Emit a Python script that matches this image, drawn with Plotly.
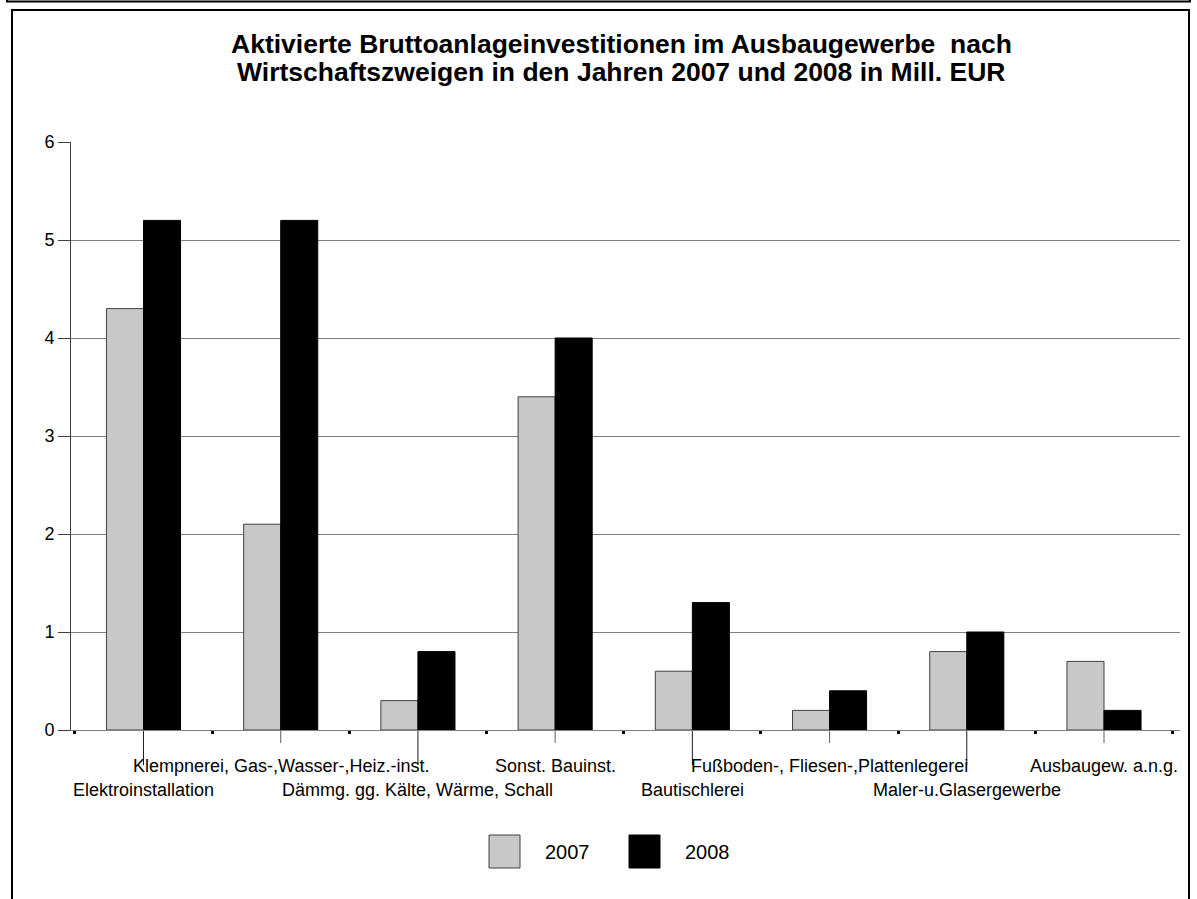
import plotly.graph_objects as go

categories = [
    "Elektroinstallation",
    "Klempnerei, Gas-,Wasser-,Heiz.-inst.",
    "Dämmg. gg. Kälte, Wärme, Schall",
    "Sonst. Bauinst.",
    "Bautischlerei",
    "Fußboden-, Fliesen-,Plattenlegerei",
    "Maler-u.Glasergewerbe",
    "Ausbaugew. a.n.g.",
]
values_2007 = [4.3, 2.1, 0.3, 3.4, 0.6, 0.2, 0.8, 0.7]
values_2008 = [5.2, 5.2, 0.8, 4.0, 1.3, 0.4, 1.0, 0.2]
series_names = ["2007", "2008"]
y_ticks = [0, 1, 2, 3, 4, 5, 6]
title_lines = [
    "Aktivierte Bruttoanlageinvestitionen im Ausbaugewerbe \u00a0nach",
    "Wirtschaftszweigen in den Jahren 2007 und 2008 in Mill. EUR",
]

W, H = 1197, 899
L, R, T, B = 71, 17, 142, 169
PW = W - L - R
PH = H - T - B


def px(xp):
    return (xp - L) / PW


def py(yp):
    return (H - B - yp) / PH


FONT = "Liberation Sans, Arial, sans-serif"

fig = go.Figure()
fig.add_trace(go.Bar(
    x=categories, y=values_2007, name=series_names[0],
    marker=dict(color="#C8C8C8", line=dict(color="#404040", width=1)),
    showlegend=False,
))
fig.add_trace(go.Bar(
    x=categories, y=values_2008, name=series_names[1],
    marker=dict(color="#000000", line=dict(color="#000000", width=1)),
    showlegend=False,
))

shapes = []
annotations = []

# category labels, staggered on two rows, plus leader lines
for i, cat in enumerate(categories):
    long_row = (i % 2 == 0)
    annotations.append(dict(
        x=i, xref="x", y=py(790 if long_row else 766), yref="paper",
        text=cat, showarrow=False, xanchor="center", yanchor="middle",
        font=dict(family=FONT, size=18, color="black"),
    ))
    shapes.append(dict(
        type="line", xref="x", yref="paper", x0=i, x1=i,
        y0=py(731), y1=py(765 if long_row else 743),
        line=dict(color="#202020" if long_row else "#606060", width=1),
    ))

# title (two lines, tight spacing)
for line, ypix in zip(title_lines, [44, 72]):
    annotations.append(dict(
        x=(621 - L) / PW, xref="paper", y=py(ypix), yref="paper",
        text="<b>" + line + "</b>",
        showarrow=False, xanchor="center", yanchor="middle",
        font=dict(family=FONT, size=26.5, color="black"),
    ))

# custom legend
legend_items = [("#C8C8C8", "#404040", series_names[0], 489),
                ("#000000", "#000000", series_names[1], 629)]
for fill, edge, label, x0 in legend_items:
    shapes.append(dict(
        type="rect", xref="paper", yref="paper",
        x0=px(x0), x1=px(x0 + 31), y0=py(868), y1=py(835),
        fillcolor=fill, line=dict(color=edge, width=1),
    ))
    annotations.append(dict(
        x=px(x0 + 54), xref="paper", y=py(852), yref="paper",
        text=label, showarrow=False, xanchor="left", yanchor="middle",
        font=dict(family=FONT, size=20, color="black"),
    ))

# chart frame (inner box) and bottom edge of box above
shapes.append(dict(
    type="rect", xref="paper", yref="paper",
    x0=px(12), x1=px(1189), y0=py(910), y1=py(10),
    line=dict(color="black", width=2), fillcolor="rgba(0,0,0,0)", layer="above",
))
shapes.append(dict(
    type="rect", xref="paper", yref="paper",
    x0=px(7), x1=px(1190), y0=py(1.5), y1=py(-10),
    line=dict(color="black", width=2), fillcolor="rgba(0,0,0,0)", layer="above",
))

fig.update_layout(
    width=W, height=H,
    margin=dict(l=L, r=R, t=T, b=B, autoexpand=False),
    paper_bgcolor="white", plot_bgcolor="white",
    barmode="group", bargap=0.46, bargroupgap=0.0,
    font=dict(family=FONT, size=15, color="black"),
    shapes=shapes, annotations=annotations,
    showlegend=False,
    xaxis=dict(
        type="category",
        showticklabels=False,
        ticks="outside", ticklen=3, tickwidth=3, tickcolor="black",
        tickson="boundaries",
        showline=True, linecolor="#808080", linewidth=1,
        showgrid=False, zeroline=False, fixedrange=True,
    ),
    yaxis=dict(
        range=[0, 6], tickmode="array", tickvals=y_ticks,
        ticks="outside", ticklen=12, tickcolor="#404040", tickwidth=1,
        showline=True, linecolor="#404040", linewidth=1,
        showgrid=True, gridcolor="#808080", gridwidth=1,
        zeroline=False,
        tickfont=dict(family=FONT, size=18, color="black"),
        fixedrange=True,
    ),
)

fig.write_html(
    "out.html",
    config={"displayModeBar": False},
    post_script="document.body.style.margin='0';document.body.style.overflow='hidden';",
)
